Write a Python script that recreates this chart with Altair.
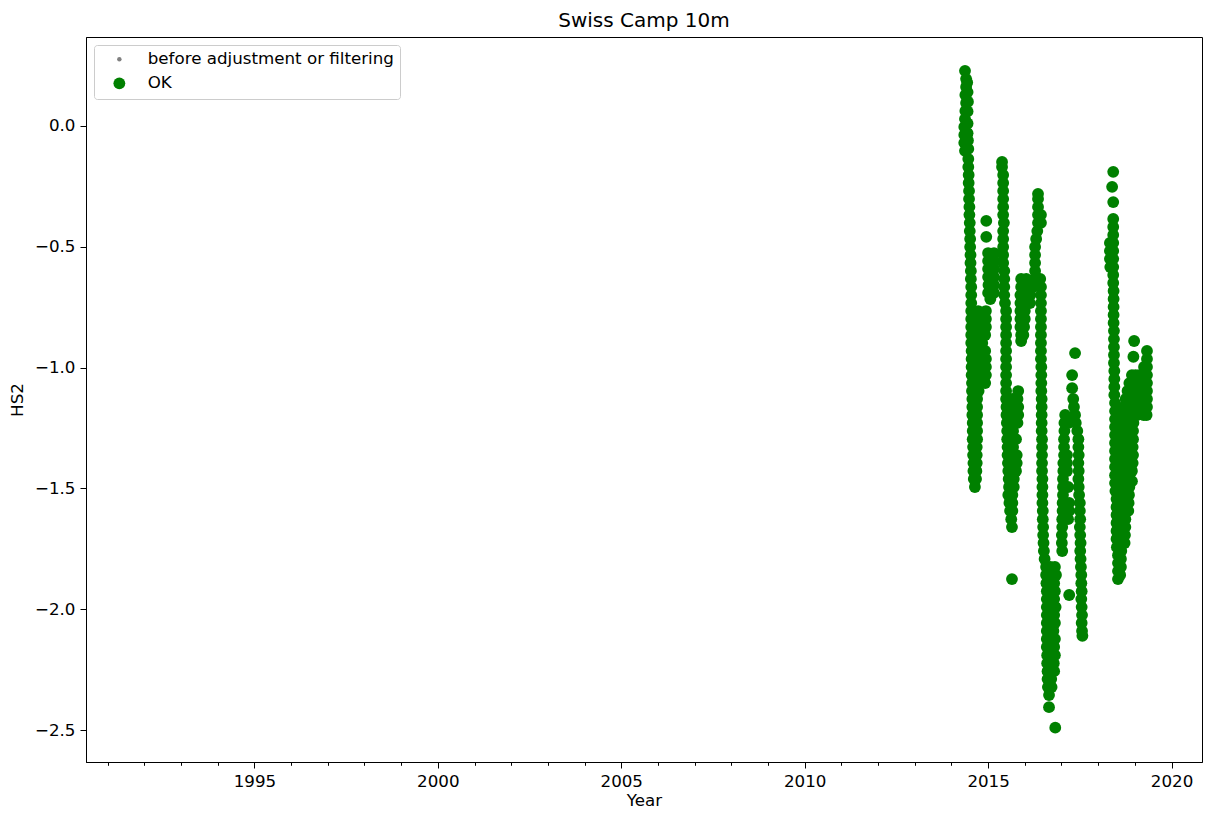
import altair as alt
import pandas as pd

# ---- data (decimal year, HS2 in m) ----
season_2014 = [
    [2014.37, 0.228], [2014.40, 0.195], [2014.40, 0.161], [2014.38, 0.128], [2014.40, 0.095],
    [2014.38, 0.062], [2014.37, 0.029], [2014.35, -0.004], [2014.44, 0.010], [2014.35, -0.037],
    [2014.44, -0.030], [2014.35, -0.070], [2014.45, -0.060], [2014.37, -0.103], [2014.46, -0.095],
    [2014.43, 0.180], [2014.44, 0.140], [2014.45, 0.100], [2014.44, 0.060],
    [2014.46, -0.137], [2014.46, -0.170], [2014.47, -0.203], [2014.47, -0.236], [2014.48, -0.269],
    [2014.48, -0.302], [2014.49, -0.335], [2014.49, -0.368], [2014.50, -0.401], [2014.50, -0.435],
    [2014.51, -0.468], [2014.51, -0.501], [2014.52, -0.534], [2014.52, -0.567], [2014.53, -0.600],
    [2014.53, -0.633], [2014.54, -0.666], [2014.54, -0.700], [2014.54, -0.733],
    [2014.54, -0.766], [2014.73, -0.766], [2014.94, -0.766],
    [2014.54, -0.799], [2014.73, -0.799], [2014.94, -0.799],
    [2014.54, -0.832], [2014.73, -0.832], [2014.94, -0.832],
    [2014.54, -0.865], [2014.73, -0.865], [2014.92, -0.865],
    [2014.54, -0.898], [2014.73, -0.898], [2014.84, -0.898],
    [2014.55, -0.931], [2014.73, -0.931], [2014.92, -0.931],
    [2014.55, -0.964], [2014.73, -0.964], [2014.94, -0.964],
    [2014.55, -0.997], [2014.74, -0.997], [2014.94, -0.997],
    [2014.55, -1.031], [2014.74, -1.031], [2014.94, -1.031],
    [2014.56, -1.064], [2014.74, -1.064], [2014.92, -1.064],
    [2014.56, -1.097], [2014.74, -1.097],
    [2014.57, -1.130], [2014.70, -1.130],
    [2014.57, -1.163], [2014.70, -1.163],
    [2014.57, -1.196], [2014.70, -1.196],
    [2014.58, -1.229], [2014.70, -1.229],
    [2014.58, -1.262], [2014.70, -1.262],
    [2014.58, -1.296], [2014.70, -1.296],
    [2014.59, -1.329], [2014.69, -1.329],
    [2014.59, -1.362], [2014.69, -1.362],
    [2014.60, -1.395], [2014.69, -1.395],
    [2014.60, -1.428], [2014.68, -1.428],
    [2014.61, -1.461], [2014.67, -1.461],
    [2014.64, -1.494],
]

season_2015 = [
    [2014.95, -0.393], [2014.95, -0.459],
    [2015.00, -0.526], [2015.16, -0.526], [2015.00, -0.559], [2015.16, -0.559],
    [2015.00, -0.592], [2015.16, -0.592], [2015.00, -0.625], [2015.16, -0.625],
    [2015.01, -0.658], [2015.16, -0.658], [2015.00, -0.691], [2015.16, -0.691], [2015.06, -0.716],
    [2015.38, -0.149], [2015.38, -0.170], [2015.41, -0.203], [2015.41, -0.236], [2015.41, -0.269],
    [2015.41, -0.302], [2015.41, -0.335], [2015.41, -0.368], [2015.43, -0.401], [2015.41, -0.435],
    [2015.41, -0.468], [2015.41, -0.501], [2015.41, -0.534], [2015.41, -0.567], [2015.44, -0.600],
    [2015.44, -0.633], [2015.44, -0.666], [2015.44, -0.700], [2015.46, -0.733], [2015.49, -0.766],
    [2015.49, -0.799], [2015.49, -0.832], [2015.49, -0.865], [2015.49, -0.898], [2015.49, -0.931],
    [2015.49, -0.964], [2015.49, -0.997], [2015.49, -1.031], [2015.49, -1.064], [2015.49, -1.097],
    [2015.82, -1.097],
    [2015.49, -1.130], [2015.66, -1.130], [2015.80, -1.130],
    [2015.50, -1.163], [2015.66, -1.163], [2015.82, -1.163],
    [2015.50, -1.196], [2015.66, -1.196], [2015.82, -1.196],
    [2015.51, -1.229], [2015.66, -1.229], [2015.80, -1.229],
    [2015.52, -1.262], [2015.68, -1.262],
    [2015.52, -1.296], [2015.68, -1.296], [2015.76, -1.296],
    [2015.53, -1.329], [2015.68, -1.329],
    [2015.53, -1.362], [2015.68, -1.362], [2015.78, -1.362],
    [2015.54, -1.395], [2015.70, -1.395], [2015.78, -1.395],
    [2015.55, -1.428], [2015.70, -1.428], [2015.76, -1.428],
    [2015.56, -1.461], [2015.70, -1.461],
    [2015.57, -1.494], [2015.70, -1.494],
    [2015.55, -1.527], [2015.66, -1.527],
    [2015.58, -1.560], [2015.66, -1.560],
    [2015.60, -1.593], [2015.66, -1.593],
    [2015.63, -1.627], [2015.65, -1.660],
    [2015.65, -1.875],
]

season_2016 = [
    [2015.90, -0.633], [2016.04, -0.633], [2015.90, -0.666], [2016.04, -0.666],
    [2015.88, -0.700], [2016.02, -0.700], [2015.88, -0.733], [2016.02, -0.733],
    [2015.88, -0.766], [2016.00, -0.766], [2015.88, -0.799], [2016.00, -0.799],
    [2015.88, -0.832], [2015.98, -0.832], [2015.90, -0.865], [2015.96, -0.865], [2015.90, -0.890],
    [2016.14, -0.666], [2016.15, -0.700], [2016.14, -0.733],
    [2016.36, -0.281], [2016.36, -0.302], [2016.36, -0.335], [2016.36, -0.368], [2016.44, -0.368],
    [2016.36, -0.401], [2016.44, -0.401], [2016.34, -0.435], [2016.31, -0.468], [2016.28, -0.501],
    [2016.28, -0.534], [2016.28, -0.567], [2016.28, -0.600], [2016.26, -0.633], [2016.42, -0.633],
    [2016.24, -0.666], [2016.44, -0.666],
    [2016.44, -0.700], [2016.44, -0.733], [2016.44, -0.766], [2016.44, -0.799], [2016.44, -0.832],
    [2016.44, -0.865], [2016.44, -0.898], [2016.44, -0.931], [2016.44, -0.964], [2016.45, -0.997],
    [2016.45, -1.031], [2016.45, -1.064], [2016.45, -1.097], [2016.46, -1.130], [2016.46, -1.163],
    [2016.46, -1.196], [2016.46, -1.229], [2016.46, -1.262], [2016.47, -1.296], [2016.47, -1.329],
    [2016.47, -1.362], [2016.47, -1.395], [2016.47, -1.428], [2016.48, -1.461], [2016.48, -1.494],
    [2016.48, -1.527], [2016.48, -1.560], [2016.49, -1.593], [2016.49, -1.627], [2016.50, -1.660],
    [2016.50, -1.693], [2016.51, -1.726], [2016.52, -1.759], [2016.54, -1.792],
    [2016.58, -1.825], [2016.70, -1.825], [2016.82, -1.825],
    [2016.58, -1.858], [2016.70, -1.858], [2016.85, -1.858],
    [2016.59, -1.892], [2016.71, -1.892], [2016.80, -1.892],
    [2016.60, -1.925], [2016.71, -1.925], [2016.82, -1.925],
    [2016.60, -1.958], [2016.71, -1.958], [2016.80, -1.958],
    [2016.60, -1.991], [2016.71, -1.991], [2016.84, -1.991],
    [2016.60, -2.024], [2016.71, -2.024], [2016.80, -2.024],
    [2016.60, -2.057], [2016.71, -2.057], [2016.82, -2.057],
    [2016.60, -2.090], [2016.71, -2.090], [2016.78, -2.090],
    [2016.60, -2.123], [2016.71, -2.123], [2016.82, -2.123],
    [2016.60, -2.156], [2016.71, -2.156], [2016.80, -2.156],
    [2016.61, -2.190], [2016.71, -2.190], [2016.82, -2.190],
    [2016.61, -2.223], [2016.71, -2.223], [2016.79, -2.223],
    [2016.62, -2.256], [2016.72, -2.256], [2016.80, -2.256],
    [2016.62, -2.289], [2016.72, -2.289],
    [2016.63, -2.322], [2016.73, -2.322],
    [2016.66, -2.355],
    [2016.66, -2.405], [2016.83, -2.490],
]

season_2017 = [
    [2017.10, -1.196], [2017.08, -1.229], [2017.20, -1.229], [2017.08, -1.262],
    [2017.07, -1.296], [2017.07, -1.329], [2017.07, -1.362], [2017.15, -1.362],
    [2017.05, -1.395], [2017.15, -1.395], [2017.05, -1.428], [2017.15, -1.428],
    [2017.04, -1.461], [2017.04, -1.494], [2017.18, -1.494], [2017.04, -1.527],
    [2017.03, -1.560], [2017.21, -1.560], [2017.03, -1.593], [2017.21, -1.593],
    [2017.02, -1.627], [2017.18, -1.627], [2017.02, -1.660], [2017.01, -1.693],
    [2017.01, -1.726], [2017.02, -1.759],
    [2017.21, -1.941],
    [2017.37, -0.940], [2017.29, -1.031], [2017.29, -1.085],
    [2017.32, -1.130], [2017.34, -1.163], [2017.37, -1.196], [2017.39, -1.229], [2017.43, -1.262],
    [2017.46, -1.296], [2017.46, -1.329], [2017.47, -1.362], [2017.46, -1.395], [2017.47, -1.428],
    [2017.46, -1.461], [2017.47, -1.494], [2017.48, -1.527], [2017.50, -1.560], [2017.50, -1.593],
    [2017.51, -1.627], [2017.50, -1.660], [2017.51, -1.693], [2017.52, -1.726], [2017.51, -1.759],
    [2017.52, -1.792], [2017.53, -1.825], [2017.54, -1.858], [2017.54, -1.892], [2017.55, -1.925],
    [2017.54, -1.958], [2017.55, -1.991], [2017.56, -2.024], [2017.55, -2.057], [2017.56, -2.090],
    [2017.57, -2.110],
]

season_2018 = [
    [2018.41, -0.190], [2018.38, -0.252], [2018.41, -0.315],
    [2018.41, -0.385], [2018.41, -0.418], [2018.41, -0.451], [2018.41, -0.484], [2018.32, -0.484],
    [2018.41, -0.517], [2018.32, -0.517], [2018.41, -0.550], [2018.32, -0.550], [2018.41, -0.584],
    [2018.33, -0.584], [2018.41, -0.617], [2018.41, -0.650], [2018.42, -0.683], [2018.42, -0.716],
    [2018.42, -0.749], [2018.42, -0.782], [2018.42, -0.815], [2018.43, -0.848], [2018.43, -0.882],
    [2018.43, -0.915], [2018.43, -0.948], [2018.43, -0.981], [2018.44, -1.014], [2018.44, -1.047],
    [2018.44, -1.080], [2018.44, -1.113], [2018.46, -1.146], [2018.46, -1.180], [2018.46, -1.213],
    [2018.46, -1.246], [2018.46, -1.279], [2018.46, -1.312], [2018.46, -1.345], [2018.46, -1.378],
    [2018.46, -1.411], [2018.46, -1.445], [2018.46, -1.478], [2018.47, -1.511], [2018.50, -1.544],
    [2018.50, -1.577], [2018.50, -1.610], [2018.50, -1.643], [2018.50, -1.676], [2018.50, -1.709],
    [2018.51, -1.743], [2018.54, -1.776], [2018.54, -1.809], [2018.54, -1.842], [2018.54, -1.875],
]

season_2019 = [
    [2018.98, -0.890], [2018.96, -0.955],
    [2019.33, -0.931], [2019.33, -0.964], [2019.33, -0.997], [2019.33, -1.031], [2019.33, -1.064],
    [2019.33, -1.097], [2019.33, -1.130], [2019.33, -1.163], [2019.32, -1.196],
    [2019.25, -0.997], [2019.25, -1.031], [2019.25, -1.064], [2019.25, -1.097], [2019.25, -1.130],
    [2019.24, -1.163], [2019.24, -1.196],
    [2018.92, -1.031], [2019.02, -1.031], [2019.12, -1.031],
    [2018.85, -1.064], [2018.95, -1.064], [2019.05, -1.064], [2019.15, -1.064],
    [2018.80, -1.097], [2018.90, -1.097], [2019.00, -1.097], [2019.10, -1.097], [2019.18, -1.097],
    [2018.75, -1.130], [2018.85, -1.130], [2018.95, -1.130], [2019.05, -1.130], [2019.15, -1.130],
    [2018.70, -1.163], [2018.80, -1.163], [2018.90, -1.163], [2019.00, -1.163], [2019.10, -1.163],
    [2018.68, -1.196], [2018.78, -1.196], [2018.88, -1.196], [2018.98, -1.196], [2019.06, -1.196],
    [2018.66, -1.229], [2018.76, -1.229], [2018.86, -1.229], [2018.96, -1.229],
    [2018.66, -1.262], [2018.76, -1.262], [2018.86, -1.262], [2018.95, -1.262],
    [2018.66, -1.296], [2018.76, -1.296], [2018.86, -1.296], [2018.95, -1.296],
    [2018.66, -1.329], [2018.76, -1.329], [2018.86, -1.329], [2018.94, -1.329],
    [2018.66, -1.362], [2018.76, -1.362], [2018.86, -1.362], [2018.95, -1.362],
    [2018.66, -1.395], [2018.76, -1.395], [2018.86, -1.395], [2018.94, -1.395],
    [2018.66, -1.428], [2018.76, -1.428], [2018.86, -1.428], [2018.92, -1.428],
    [2018.66, -1.461], [2018.76, -1.461], [2018.86, -1.461], [2018.92, -1.470],
    [2018.65, -1.494], [2018.75, -1.494], [2018.85, -1.494],
    [2018.65, -1.527], [2018.75, -1.527], [2018.84, -1.527],
    [2018.65, -1.560], [2018.75, -1.560], [2018.83, -1.560],
    [2018.65, -1.593], [2018.75, -1.593], [2018.82, -1.593],
    [2018.64, -1.627], [2018.74, -1.627],
    [2018.64, -1.660], [2018.74, -1.660],
    [2018.64, -1.693], [2018.73, -1.693],
    [2018.64, -1.726], [2018.72, -1.726],
    [2018.63, -1.759], [2018.62, -1.792], [2018.62, -1.825], [2018.60, -1.858],
]

legend_labels = ["before adjustment or filtering", "OK"]
legend_colors = ["gray", "green"]
legend_sizes = [20, 140]

x_domain = [1990.41, 2020.83]
y_domain = [-2.632, 0.368]
x_ticks = list(range(1991, 2021))
y_ticks = [-2.5, -2.0, -1.5, -1.0, -0.5, 0.0]

rows = []
for season in (season_2014, season_2015, season_2016, season_2017, season_2018, season_2019):
    for yr, v in season:
        rows.append({"year": yr, "hs2": v, "flag": "OK"})
df = pd.DataFrame(rows)

FONT = "DejaVu Sans"
FS = 16.7

chart = alt.Chart(df).mark_circle(opacity=1, strokeWidth=0).encode(
    x=alt.X(
        "year:Q",
        scale=alt.Scale(domain=x_domain, nice=False, zero=False),
        axis=alt.Axis(
            title="Year",
            values=x_ticks,
            format="d",
            labelExpr="datum.value % 5 === 0 ? datum.label : ''",
            labelOverlap=False,
            labelFlush=False,
            tickSize={"condition": {"test": "datum.value % 5 === 0", "value": 6}, "value": 3.3},
            titlePadding=3,
        ),
    ),
    y=alt.Y(
        "hs2:Q",
        scale=alt.Scale(domain=y_domain, nice=False, zero=False),
        axis=alt.Axis(title="HS2", values=y_ticks, format=".1f", tickSize=6, titlePadding=8),
    ),
    color=alt.Color(
        "flag:N",
        scale=alt.Scale(domain=legend_labels, range=legend_colors),
        legend=alt.Legend(title=None),
    ),
    size=alt.Size(
        "flag:N",
        scale=alt.Scale(domain=legend_labels, range=legend_sizes),
        legend=alt.Legend(title=None),
    ),
).properties(
    width=1116,
    height=725,
    title=alt.TitleParams(
        "Swiss Camp 10m", font=FONT, fontSize=20, fontWeight="normal", color="black", offset=6
    ),
    autosize=alt.AutoSizeParams(type="none"),
    padding={"left": 86, "top": 37, "right": 11, "bottom": 60},
).configure_view(
    stroke="black", strokeWidth=1
).configure_axis(
    grid=False,
    domainColor="black",
    domainWidth=1,
    tickColor="black",
    tickWidth=1,
    labelColor="black",
    labelFont=FONT,
    labelFontSize=FS,
    labelPadding=5,
    titleFont=FONT,
    titleFontSize=FS,
    titleFontWeight="normal",
    titleColor="black",
).configure_legend(
    orient="top-left",
    offset=8,
    padding=6,
    strokeColor="#cccccc",
    fillColor="rgba(255,255,255,0.8)",
    cornerRadius=3,
    labelFont=FONT,
    labelFontSize=FS,
    labelColor="black",
    labelLimit=0,
    symbolType="circle",
    symbolStrokeWidth=0,
    symbolOffset=11,
    labelOffset=20,
    rowPadding=6,
)

chart.save("out.html", embed_options={"renderer": "svg", "actions": False})
